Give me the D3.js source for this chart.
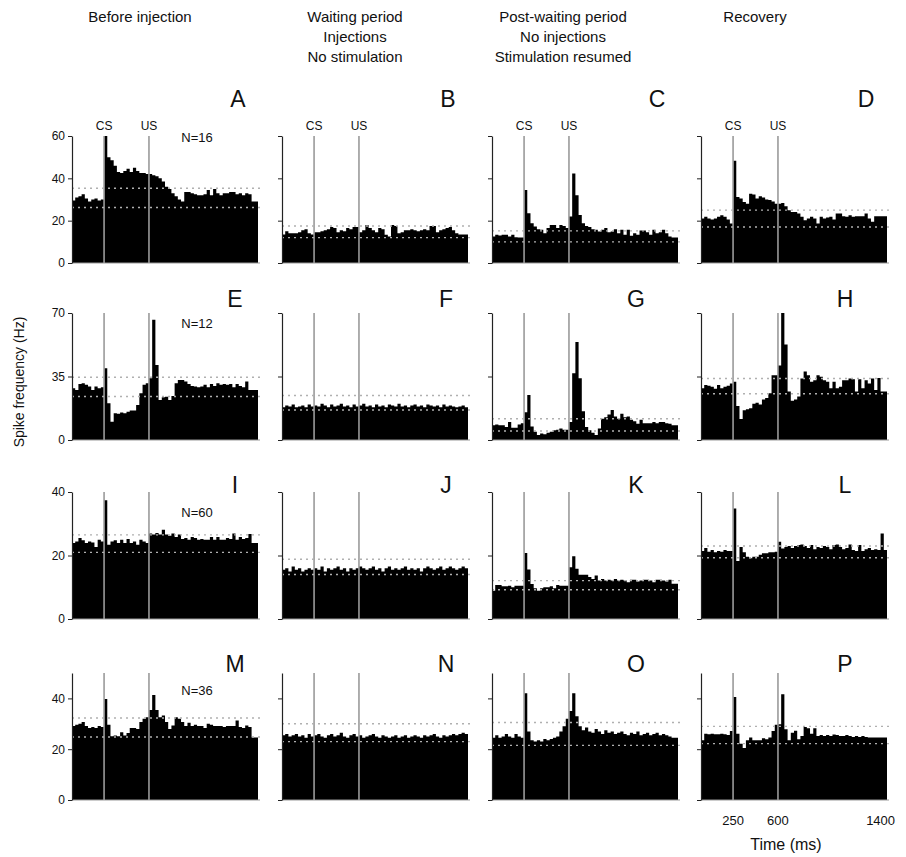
<!DOCTYPE html>
<html>
<head>
<meta charset="utf-8">
<script src="https://cdn.jsdelivr.net/npm/d3@7"></script>
<style>
body { margin: 0; background: #fff; }
text { font-family: "Liberation Sans", Arial, sans-serif; fill: #111; }
</style>
</head>
<body>
<svg id="fig" width="906" height="857"></svg>
<script>
// spike counts per 25 ms bin, 58 bins (0 - 1450 ms)
var panelA = [29.5,31,31.5,32.5,30.5,29,30,30.5,29.5,30,
  60,50,48.5,46,43,42.5,43.5,44.5,43,45,43.5,42.5,42.5,42,
  42,41.5,41,40,38.5,36,35,33,31.5,30,29,33.5,33.5,33,32.5,32,32,32.5,34.5,32,35,33,32,33,33,33.5,33.5,32.5,33,32,33,32.5,29,29];
var panelB = [13.5,15,14,14,14,14.5,15.5,16,14,13.5,
  14.5,14.5,15,15.5,16,17,16.5,14.5,15.5,15,16.5,16,17,17,
  14.5,15.5,18,16.5,15.5,14.5,16.5,16,13.3,12.5,18,17.5,14,14.5,15.5,15.5,16,15.5,15,15.5,16,15.5,17.5,17.5,14.5,15.5,16,16.5,17,15.5,14,13.5,13.5,13.5];
var panelC = [12.5,13.3,13,13.3,13.3,12.5,13.3,12.2,12,12,
  34.5,23.5,18.8,17.2,16,15.7,14,16.5,18,18,16.5,18,17.5,16.5,
  22,42.3,32,22.7,18.8,17.5,17,16,15.7,14.9,15.7,16.5,14.5,14.9,16,14,15.7,13.3,15.7,12.9,14,13.3,15.4,15.4,14.5,13.3,15.7,14.1,14.5,15.7,14.1,12.5,12,12];
var panelD = [21,21.8,21,20.5,21,21.8,22.6,21.8,20.5,18.7,
  48.3,31.2,30.5,28.8,28,32.7,32.4,30.5,31.5,31,30,29.8,29,28,
  28,28.3,26.8,24.9,24.1,24.1,23.4,21.8,20.2,21,21.8,21,18.7,21.8,21,21.5,21.8,20.5,23.4,23.4,22.1,21.8,22.6,21.8,22.1,22.1,22.1,23.4,21,19.5,22.1,22.1,22.1,22.1];
var panelE = [28.5,27.6,30.9,31.3,30.4,29.5,27.6,29.5,28.5,29.1,
  39.6,20.3,10.1,14.7,14.4,15.1,14.7,15.6,16.2,16.2,19.3,25.8,30.4,31.3,
  34,66.3,41.4,22.1,23.6,23.9,22.1,24.3,31.3,33.1,33.1,32.2,30.9,29.8,29.5,29.1,29.5,30.4,29.1,30.9,29.8,31.3,30.4,30.8,30.4,30.9,29.1,30.9,29.8,29.1,32.2,27.6,27.6,27.6];
var panelF = [18,19,18.5,19.5,18,18.5,19,18,19.5,18.5,
  19,18.5,20,19,18,19.5,18.5,19,20,18.5,19,18,19.5,18.5,
  19,20,18.5,19,18,19.5,18.5,19,18,19.5,19,18.5,20,18.5,19,18,19,19.5,18.5,19,18,19.5,19,18.5,19,18,19.5,18.5,19,18.5,18,18.5,19,18];
var panelG = [8.1,8.6,8.1,8.1,7.2,9.9,6.8,6.8,8.6,9.3,
  15.3,24.8,7.5,4.5,2.7,3.6,3.2,4,4.5,5.4,5.7,6.3,5.7,5.7,
  9.9,36.8,54,34,15.8,7.2,5.4,4,2.7,6.3,11.7,12.6,14,16.5,12.9,11.7,14.4,12.6,12.9,11.1,10.4,9,11.1,9.3,9.3,9.3,9.9,9.3,9.9,9.9,9.3,9,8.1,8.1];
var panelH = [28.5,30.3,29.9,29.4,28.2,30.3,28.5,29.4,29.9,31.2,
  32.1,18.7,11.6,16.4,16.9,17.5,20,20.5,19.6,22.3,23.2,25.8,35.7,35.7,
  41,70,52.6,26.7,21.7,22.3,24,33.9,37.8,35.7,32.1,33,35.7,34.8,33,32.1,28.5,32.1,28.5,29.4,33,33,33.9,33.5,26.7,33.5,28.5,33,31.2,33.9,27.6,34.2,26.7,26.7];
var panelI = [23.9,24.4,25.5,24.8,23.9,24.4,24.1,22.7,25,24.4,
  37.4,23.4,24.4,24.8,23.9,25,23.9,25.2,23.9,24.4,23.4,25,24.4,23.9,
  26.9,26.6,27.1,26.6,28.1,26.6,26.2,26.9,25.8,26.6,25.2,25.5,25,25.8,25.5,25,25.2,25,25,25.8,25,25.8,25,25,25.5,25.2,26.9,25,25.8,25.2,25.5,26.8,23.9,23.9];
var panelJ = [15.5,16,15,16.5,15.5,16,15,15.5,16,15.5,
  16,15.5,16.5,15,16,15.5,16,16.5,15.5,16,15,16,15.5,16,
  16.5,16,15.5,16,16.5,15.5,16,15,16,16.5,15.5,16,15.5,16,16.5,15.5,16,15.5,16,15,16,16.5,16,15.5,16,16.5,15.5,16,16.5,16,15.5,16,16.5,16];
var panelK = [8.9,10.7,10.7,10.3,10.3,10.5,10,10.5,10.5,10.5,
  20.8,15.6,11,9.7,8.9,9.7,10,10,10.3,9.7,10.7,10.5,10.5,10.5,
  16.3,19.8,15.8,13.9,13.9,13.9,13.2,12.6,13.7,12.1,12.6,12.1,12.4,12.1,12.6,12.1,12.4,12.1,11.6,12.4,12.4,11.8,12.1,12.4,12.4,12.1,11.6,12.4,12.4,12.1,11.8,12.4,11.1,11.1];
var panelL = [21.4,22.4,21.2,21.7,21,21.4,21.2,21.7,21.4,21.4,
  34.8,18.3,22.7,21,19.6,19.1,19.6,19.6,20.2,20.7,20.7,21,21,21.2,
  24.3,22.2,22.7,23,22.4,23,23.3,23.5,23,22.4,23.3,22,22.7,22.4,23,22.7,22,23.3,23.5,22.7,22,22.4,23.5,21.7,21.4,23.3,21.4,22,22.4,21.7,22,21.7,26.9,21.7];
var panelM = [29.1,29.6,30,30.7,29.1,28.3,28.7,28.3,29.1,28.7,
  39.8,29.6,25.1,25.4,25.1,26.7,25.4,26.4,28.3,28.3,28,30.7,32,32.6,
  35.4,41.3,35.4,32.6,33.3,30.7,28,29.3,32.6,32,30.7,29.1,30.4,29.1,29.6,29.1,29.1,28.3,30,29.6,29.1,29.1,29.1,28.7,29.1,29.1,29.1,31.3,28.7,28.3,29.3,28.7,24.6,24.6];
var panelN = [25.5,26,25,25.5,26,25,25.5,24.5,26,25,
  25.5,26,25,24.5,25.5,26,25,25.5,26.5,25,24.5,25.5,26,25,
  25.5,24.5,25,25.5,26,25,24.5,25.5,25,24.5,25,25.5,24.5,25,25.5,24.5,25,25.5,25,24.5,25.5,25,25.5,26,25,24.5,25.5,25,25.5,26,25.5,26,26.5,26];
var panelO = [24.5,25.5,24.5,25,26,25,24.5,26,25,24.5,
  42,27,23.5,23,23.5,23,24,23.5,24,24.5,25,27,29,32,
  35,42,33,29,27.5,28.5,27,26.5,28,27,26,27.5,26.5,27,26,26.5,27,26,25.5,26.5,26,27,25.5,26,26.5,25.5,26,26.5,25.5,26,25.5,25,24.5,24.5];
var panelP = [23.5,26.1,25.9,26.1,25.9,25.9,26.1,25.9,25.6,27.2,
  40.6,26.1,22.1,20.5,23.5,24.6,23.5,23.5,23.5,24.3,23.9,24.6,27.2,29.6,
  29.8,41.6,27.9,23.5,26.5,27.3,23.9,25.2,28.7,28.2,26.1,28.2,25.2,25.6,25.2,25.6,25.2,25.8,25.6,25.2,25.2,25.6,25.2,24.8,25.2,24.8,25.2,24.8,24.6,24.6,24.6,24.6,24.6,24.6];

// dotted reference levels (upper, lower) per panel
var dashA = [35.3, 26.2], dashB = [17.5, 12], dashC = [15.2, 10], dashD = [25, 17];
var dashE = [34.6, 24], dashF = [24.5, 16.5], dashG = [11.7, 5], dashH = [33.9, 25.5];
var dashI = [26.5, 21], dashJ = [18.8, 14], dashK = [12.1, 9.2], dashL = [23, 19.3];
var dashM = [32.3, 24.8], dashN = [30, 23], dashO = [30.5, 21.5], dashP = [29, 22.2];

var letters = ["A","B","C","D","E","F","G","H","I","J","K","L","M","N","O","P"];
var colTitles = [["Before injection"], ["Waiting period","Injections","No stimulation"],
  ["Post-waiting period","No injections","Stimulation resumed"], ["Recovery"]];
var rowMax = [60, 70, 40, 50];
var rowTicks = [[0,20,40,60], [0,35,70], [0,20,40], [0,20,40]];
var nLabels = ["N=16", "N=12", "N=60", "N=36"];
var timeTicks = [250, 600, 1400];
var csTime = 250, usTime = 600, binMs = 25, timeEnd = 1450;

var series = [panelA,panelB,panelC,panelD,panelE,panelF,panelG,panelH,
              panelI,panelJ,panelK,panelL,panelM,panelN,panelO,panelP];
var dashes = [dashA,dashB,dashC,dashD,dashE,dashF,dashG,dashH,
              dashI,dashJ,dashK,dashL,dashM,dashN,dashO,dashP];

var svg = d3.select("#fig");
var colX = [72, 282, 492, 701],
    rowBase = [263, 440, 619, 800],
    pw = 186, ph = 127;
var nY = [142, 328, 517, 695];
var letterY = [107, 307, 493, 672];
var letterX = [[238, 448, 657, 866], [235, 446, 636, 845], [235, 446, 636, 845], [235, 446, 636, 845]];

var x = d3.scaleLinear().domain([0, timeEnd]).range([0, pw]);

// column titles
colTitles.forEach(function(lines, c) {
  var cx = [140, 355, 563, 755][c];
  lines.forEach(function(t, k) {
    svg.append("text").attr("x", cx).attr("y", 22 + k * 20)
      .attr("text-anchor", "middle").style("font-size", "15px").text(t);
  });
});

svg.append("text")
  .attr("transform", "translate(24,382) rotate(-90)")
  .attr("text-anchor", "middle").style("font-size", "14px")
  .text("Spike frequency (Hz)");

series.forEach(function(vals, p) {
  var r = Math.floor(p / 4), c = p % 4;
  var top = rowBase[r] - ph;
  var g = svg.append("g").attr("transform", "translate(" + colX[c] + "," + top + ")");
  var y = d3.scaleLinear().domain([0, rowMax[r]]).range([ph, 0]);

  // histogram drawn as one stepped area so bins have no seams
  var steps = vals.concat([vals[vals.length - 1]]);
  var area = d3.area()
    .x(function(d, i) { return x(i * binMs); })
    .y0(ph)
    .y1(function(d) { return y(Math.min(d, rowMax[r])); })
    .curve(d3.curveStepAfter);
  g.append("path").datum(steps).attr("d", area).attr("fill", "#000");

  // baseline
  g.append("line").attr("x1", 0).attr("x2", x(timeEnd) + 2)
    .attr("y1", ph).attr("y2", ph)
    .attr("stroke", "#999").attr("stroke-width", 1);

  // CS / US markers
  [csTime, usTime].forEach(function(t) {
    g.append("line").attr("x1", x(t)).attr("x2", x(t))
      .attr("y1", 0).attr("y2", ph)
      .attr("stroke", "#9a9a9a").attr("stroke-width", 1.6);
  });

  // dotted reference levels
  dashes[p].forEach(function(v) {
    g.append("line").attr("x1", 0).attr("x2", x(timeEnd) + 3)
      .attr("y1", y(v)).attr("y2", y(v))
      .attr("stroke", "#b0b0b0").attr("stroke-width", 1.4)
      .attr("stroke-dasharray", "2,4");
  });

  var ax = g.append("g")
    .call(d3.axisLeft(y).tickValues(rowTicks[r]).tickSize(4).tickSizeOuter(0)
      .tickFormat(c == 0 ? d3.format("d") : function() { return ""; }));
  ax.select(".domain").attr("stroke", "#222").attr("stroke-width", 1.2);
  ax.selectAll(".tick line").attr("stroke", "#222");
  ax.selectAll(".tick text").style("font-size", "12px")
    .style("font-family", "Liberation Sans, Arial, sans-serif").attr("fill", "#111");

  if (r == 0) {
    ["CS", "US"].forEach(function(t, k) {
      g.append("text").attr("x", x([csTime, usTime][k])).attr("y", -6)
        .attr("text-anchor", "middle").style("font-size", "12px").text(t);
    });
  }
  if (c == 0) {
    svg.append("text").attr("x", 197).attr("y", nY[r])
      .attr("text-anchor", "middle").style("font-size", "13px").text(nLabels[r]);
  }
  svg.append("text").attr("x", letterX[r][c]).attr("y", letterY[r])
    .attr("text-anchor", "middle").style("font-size", "23px").text(letters[p]);
});

// time labels under last panel
timeTicks.forEach(function(t) {
  svg.append("text").attr("x", colX[3] + x(t)).attr("y", 825)
    .attr("text-anchor", "middle").style("font-size", "13px").text(t);
});
svg.append("text").attr("x", 786).attr("y", 850)
  .attr("text-anchor", "middle").style("font-size", "16px").text("Time (ms)");
</script>
</body>
</html>
